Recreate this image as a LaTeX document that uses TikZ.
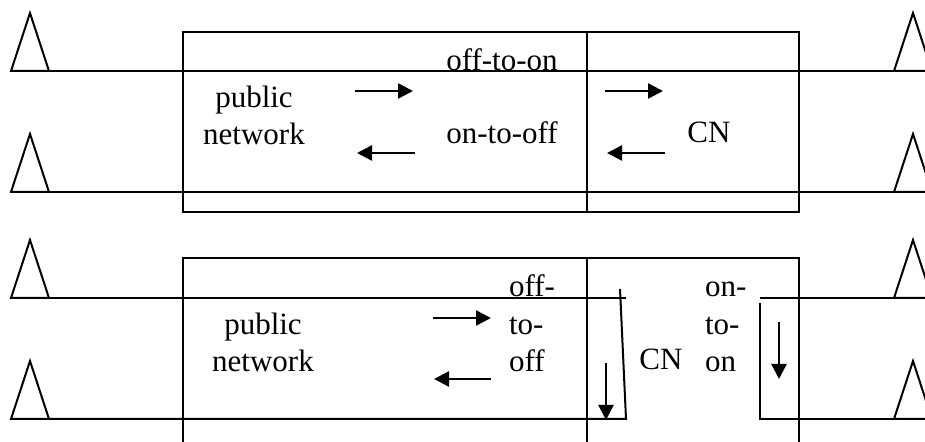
\documentclass[tikz,border=0pt]{standalone}
\usepackage{fontspec}
\setmainfont{Liberation Serif}
\usetikzlibrary{arrows.meta}

\begin{document}
\begin{tikzpicture}[x=0.5pt,y=-0.5pt,line width=1pt,
    lbl/.style={font=\fontsize{15.5}{18.75}\selectfont,inner sep=0pt},
    flow/.style={->,line width=1.25pt}]
		\tikzset{> = {Triangle[length=7.5pt,width=7.5pt]}}
		\useasboundingbox (0,0) rectangle (925,442);
		\clip (0,0) rectangle (925,442);
		% antennas on both sides
		\foreach \y in {71,192,298,419}{
			\draw (11,\y) -- (30,\y-58) -- (49,\y) -- cycle;
			\draw (894,\y) -- (913,\y-58) -- (932,\y) -- cycle;
			\coordinate (L\y) at (49,\y);
			\coordinate (R\y) at (894,\y);
		}
		% upper case: both lines run through
		\draw (183,32) rectangle (799,212);
		\draw (587,32) -- (587,212);
		\draw (L71) -- (R71);
		\draw (L192) -- (R192);
		\node[lbl,anchor=base] (offon) at (502,71) {off-to-on};
		\node[lbl,anchor=base] (onoff) at (502,144) {on-to-off};
		\node[lbl,anchor=base,align=center] (pubA) at (254,145) {public\\network};
		\node[lbl,anchor=base] (cnA) at (709,143) {CN};
		\draw[flow] (355,91) -- (413,91);
		\draw[flow] (415,153) -- (357,153);
		\draw[flow] (605,91) -- (663,91);
		\draw[flow] (665,153) -- (607,153);
		% lower case: lines looped back
		\draw (183,442) -- (183,258) -- (799,258) -- (799,442);
		\draw (587,258) -- (587,442);
		\coordinate (cutA) at (626,298);
		\coordinate (cutB) at (626,419);
		\coordinate (loopA) at (760,298);
		\coordinate (loopB) at (760,303);
		\coordinate (loopC) at (760,419);
		\draw (L298) -- (cutA);
		\draw (L419) -- (cutB) -- (620,289);
		\draw (loopA) -- (R298);
		\draw (loopB) -- (loopC) -- (R419);
		\node[lbl,anchor=base,align=center] (pubB) at (263,372) {public\\network};
		\node[lbl,anchor=base west,align=left] (offoff) at (508,372) {off-\\to-\\off};
		\node[lbl,anchor=base west,align=left] (onon) at (704,372) {on-\\to-\\on};
		\node[lbl,anchor=base] (cnB) at (661,370) {CN};
		\draw[flow] (433,318) -- (491,318);
		\draw[flow] (491,379) -- (434,379);
		\draw[flow] (606,363) -- (606,420);
		\draw[flow] (779,322) -- (779,379);
	\end{tikzpicture}
\end{document}
